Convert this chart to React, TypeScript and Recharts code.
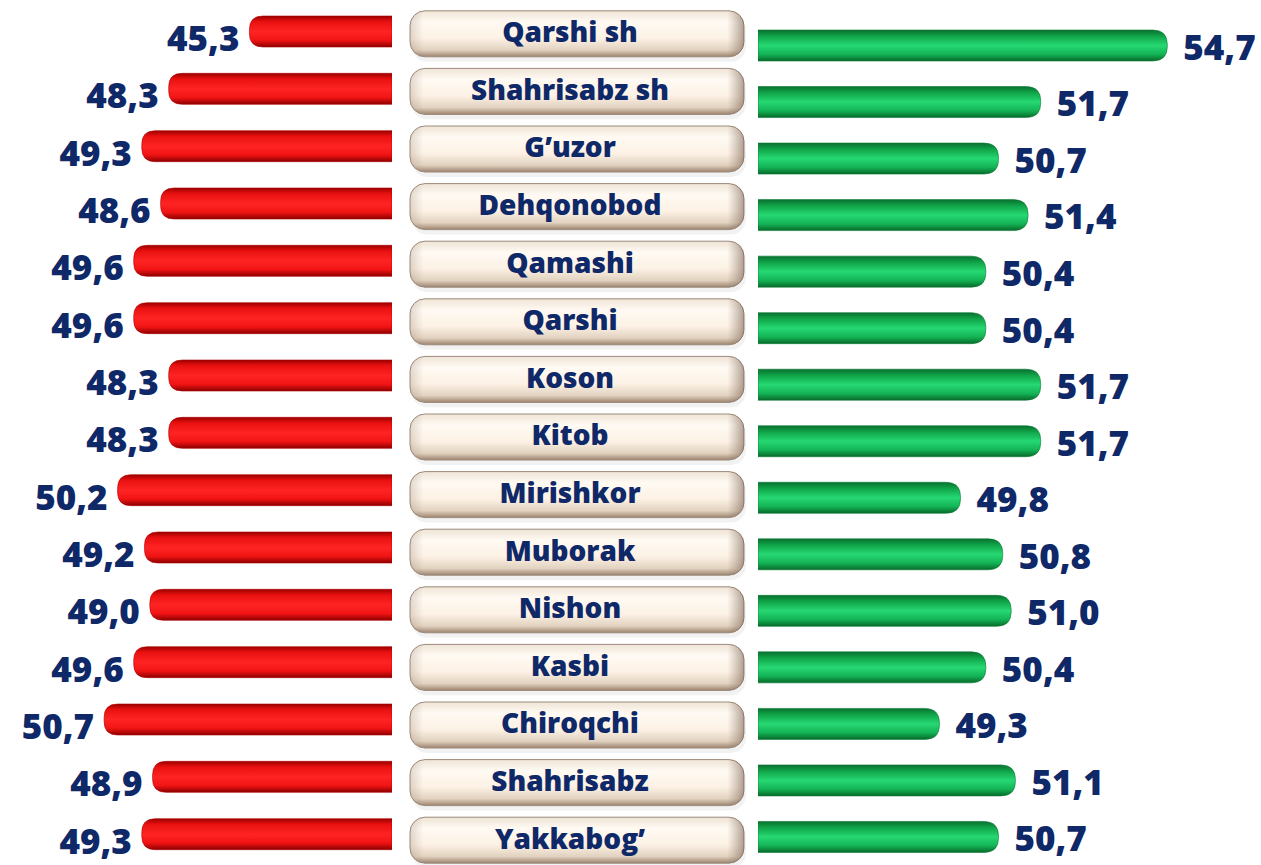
import React from 'react';
import { BarChart, Bar, XAxis, YAxis, LabelList } from 'recharts';

const CATEGORIES = [
  'Qarshi sh',
  'Shahrisabz sh',
  'G\u2019uzor',
  'Dehqonobod',
  'Qamashi',
  'Qarshi',
  'Koson',
  'Kitob',
  'Mirishkor',
  'Muborak',
  'Nishon',
  'Kasbi',
  'Chiroqchi',
  'Shahrisabz',
  'Yakkabog\u2019',
];
const LEFT_SHARE = [45.3, 48.3, 49.3, 48.6, 49.6, 49.6, 48.3, 48.3, 50.2, 49.2, 49.0, 49.6, 50.7, 48.9, 49.3];
const RIGHT_SHARE = [54.7, 51.7, 50.7, 51.4, 50.4, 50.4, 51.7, 51.7, 49.8, 50.8, 51.0, 50.4, 49.3, 51.1, 50.7];

const rows = CATEGORIES.map((name, i) => ({
  name,
  left: LEFT_SHARE[i],
  right: RIGHT_SHARE[i],
}));

const NAVY = '#0f2868';
const FONT = '"Open Sans", "Noto Sans", sans-serif';
const fmt = (v: number) => v.toFixed(1).replace('.', ',');

const RedBar = (props: any) => {
  let { x, y, width, height } = props;
  if (width < 0) {
    x += width;
    width = -width;
  }
  const r = Math.min(height / 2 - 2, width);
  const d = `M${x + width},${y} L${x + r},${y} Q${x},${y} ${x},${y + r} L${x},${y + height - r} Q${x},${y + height} ${x + r},${y + height} L${x + width},${y + height} Z`;
  return <path d={d} fill="url(#redGloss)" stroke="#b00000" strokeWidth={0.6} />;
};

const GreenBar = (props: any) => {
  const { x, y, width, height } = props;
  const r = Math.min(height / 2 - 1, width);
  const d = `M${x},${y} L${x + width - r},${y} Q${x + width},${y} ${x + width},${y + r} L${x + width},${y + height - r} Q${x + width},${y + height} ${x + width - r},${y + height} L${x},${y + height} Z`;
  return <path d={d} fill="url(#greenGloss)" stroke="#0a7a34" strokeWidth={0.6} />;
};

const LeftLabel = (props: any) => {
  const { x, y, width, height, value } = props;
  const edge = Math.min(x, x + width);
  return (
    <text
      x={edge - 10}
      y={y + height / 2 + 10}
      textAnchor="end"
      dominantBaseline="middle"
      fill={NAVY}
      fontFamily={FONT}
      fontWeight={800}
      fontSize={35}
    >
      {fmt(value)}
    </text>
  );
};

const RightLabel = (props: any) => {
  const { x, y, width, height, value } = props;
  return (
    <text
      x={x + width + 16}
      y={y + height / 2 + 5}
      textAnchor="start"
      dominantBaseline="middle"
      fill={NAVY}
      fontFamily={FONT}
      fontWeight={800}
      fontSize={35}
    >
      {fmt(value)}
    </text>
  );
};

const PillTick = (props: any) => {
  const { y, payload } = props;
  const w = 334;
  const h = 46;
  return (
    <g>
      <rect x={12} y={y - h / 2 + 5} width={w} height={h} rx={15} fill="#000" opacity={0.05} />
      <rect x={10} y={y - h / 2} width={w} height={h} rx={15} fill="url(#pillGloss)" stroke="#9c8a7a" strokeWidth={1} />
      <rect x={10} y={y - h / 2} width={w} height={h} rx={15} fill="url(#pillSide)" />
      <text
        x={10 + w / 2 - 7}
        y={y + 1}
        textAnchor="middle"
        dominantBaseline="middle"
        fill={NAVY}
        fontFamily={FONT}
        fontWeight={800}
        fontSize={28}
      >
        {payload.value}
      </text>
    </g>
  );
};

export default function App() {
  return (
    <div style={{ position: 'fixed', left: 0, top: 0, width: 1261, height: 865, background: '#fff', overflow: 'hidden' }}>
      <svg width={0} height={0} style={{ position: 'absolute' }}>
        <defs>
          <linearGradient id="redGloss" x1="0" y1="0" x2="0" y2="1">
            <stop offset="0%" stopColor="#9a0000" />
            <stop offset="18%" stopColor="#e81010" />
            <stop offset="50%" stopColor="#ff2424" />
            <stop offset="78%" stopColor="#f21414" />
            <stop offset="100%" stopColor="#8c0000" />
          </linearGradient>
          <linearGradient id="greenGloss" x1="0" y1="0" x2="0" y2="1">
            <stop offset="0%" stopColor="#0a7030" />
            <stop offset="20%" stopColor="#10a448" />
            <stop offset="50%" stopColor="#26d873" />
            <stop offset="78%" stopColor="#14b456" />
            <stop offset="100%" stopColor="#076a2a" />
          </linearGradient>
          <linearGradient id="pillGloss" x1="0" y1="0" x2="0" y2="1">
            <stop offset="0%" stopColor="#efe4d6" />
            <stop offset="25%" stopColor="#fffaf3" />
            <stop offset="60%" stopColor="#fcf1e4" />
            <stop offset="85%" stopColor="#e2d2c0" />
            <stop offset="100%" stopColor="#9c8470" />
          </linearGradient>
          <linearGradient id="pillSide" x1="0" y1="0" x2="1" y2="0">
            <stop offset="0%" stopColor="#8a7260" stopOpacity={0.25} />
            <stop offset="4%" stopColor="#8a7260" stopOpacity={0} />
            <stop offset="95%" stopColor="#8a7260" stopOpacity={0} />
            <stop offset="100%" stopColor="#6e5646" stopOpacity={0.55} />
          </linearGradient>
        </defs>
      </svg>

      <div style={{ position: 'absolute', left: 0, top: 0 }}>
        <BarChart width={392} height={865} data={rows} layout="vertical" margin={{ top: 3, right: 0, bottom: 2, left: 0 }}>
          <XAxis type="number" hide reversed domain={[40, 54.57]} allowDataOverflow />
          <YAxis type="category" dataKey="name" hide />
          <Bar dataKey="left" barSize={31} shape={<RedBar />} isAnimationActive={false}>
            <LabelList dataKey="left" content={<LeftLabel />} />
          </Bar>
        </BarChart>
      </div>

      <div style={{ position: 'absolute', left: 400, top: 0 }}>
        <BarChart width={360} height={870} data={rows} layout="vertical" margin={{ top: 5, right: 0, bottom: 1, left: 0 }}>
          <XAxis type="number" hide domain={[0, 1]} />
          <YAxis type="category" dataKey="name" width={350} axisLine={false} tickLine={false} tick={<PillTick />} interval={0} />
        </BarChart>
      </div>

      <div style={{ position: 'absolute', left: 758, top: 0 }}>
        <BarChart width={503} height={865} data={rows} layout="vertical" margin={{ top: 17, right: 0, bottom: 0, left: 0 }}>
          <XAxis type="number" hide domain={[45, 56.92]} allowDataOverflow />
          <YAxis type="category" dataKey="name" hide />
          <Bar dataKey="right" barSize={31} shape={<GreenBar />} isAnimationActive={false}>
            <LabelList dataKey="right" content={<RightLabel />} />
          </Bar>
        </BarChart>
      </div>
    </div>
  );
}
